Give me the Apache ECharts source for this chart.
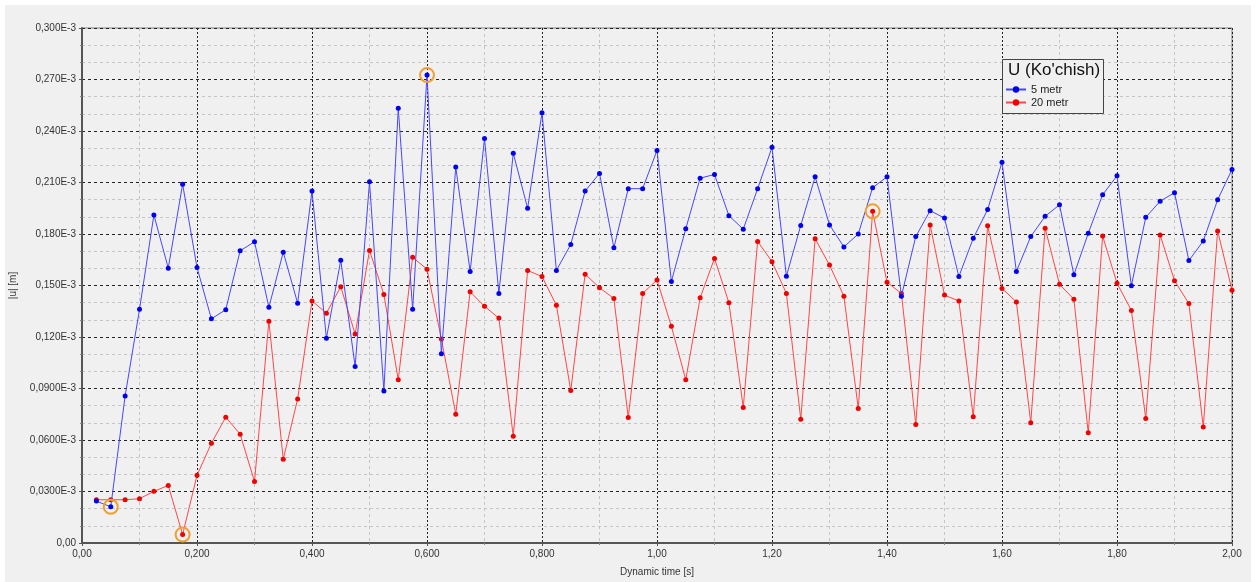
<!DOCTYPE html>
<html>
<head>
<meta charset="utf-8">
<script src="https://cdn.jsdelivr.net/npm/echarts@6/dist/echarts.min.js"></script>
<style>
html,body{margin:0;padding:0;background:#ffffff;}
#bg{position:absolute;left:5px;top:5px;width:1246px;height:577px;background:#f0f0f0;}
#chart{position:absolute;left:0;top:0;width:1256px;height:582px;}
</style>
</head>
<body>
<div id="bg"></div>
<div id="chart"></div>
<script>
// Dynamic time [s]
const times = [
  0.025,0.05,0.075,0.1,0.125,0.15,0.175,0.2,0.225,0.25,0.275,0.3,0.325,0.35,0.375,0.4,
  0.425,0.45,0.475,0.5,0.525,0.55,0.575,0.6,0.625,0.65,0.675,0.7,0.725,0.75,0.775,0.8,
  0.825,0.85,0.875,0.9,0.925,0.95,0.975,1.0,1.025,1.05,1.075,1.1,1.125,1.15,1.175,1.2,
  1.225,1.25,1.275,1.3,1.325,1.35,1.375,1.4,1.425,1.45,1.475,1.5,1.525,1.55,1.575,1.6,
  1.625,1.65,1.675,1.7,1.725,1.75,1.775,1.8,1.825,1.85,1.875,1.9,1.925,1.95,1.975,2.0
];
// |u| in units of 1E-3 m
const metr5 = [
  0.0244,0.0211,0.0857,0.1361,0.1911,0.1601,0.2090,0.1605,0.1306,0.1359,0.1702,0.1755,0.1373,0.1694,0.1397,0.2050,
  0.1192,0.1647,0.1028,0.2104,0.0886,0.2533,0.1361,0.2726,0.1103,0.2190,0.1582,0.2356,0.1454,0.2271,0.1950,0.2507,
  0.1588,0.1739,0.2050,0.2153,0.1720,0.2064,0.2064,0.2287,0.1524,0.1830,0.2125,0.2147,0.1907,0.1828,0.2064,0.2305,
  0.1554,0.1850,0.2133,0.1853,0.1725,0.1800,0.2070,0.2133,0.1438,0.1785,0.1936,0.1893,0.1552,0.1775,0.1942,0.2218,
  0.1582,0.1785,0.1903,0.1970,0.1562,0.1804,0.2029,0.2139,0.1499,0.1897,0.1991,0.2041,0.1645,0.1759,0.1999,0.2176
];
const metr20 = [
  0.0252,0.0252,0.0252,0.0258,0.0301,0.0335,0.0049,0.0394,0.0581,0.0733,0.0634,0.0358,0.1292,0.0488,0.0839,0.1410,
  0.1339,0.1493,0.1217,0.1704,0.1448,0.0951,0.1664,0.1595,0.1188,0.0750,0.1463,0.1379,0.1310,0.0622,0.1588,0.1552,
  0.1385,0.0888,0.1566,0.1487,0.1424,0.0731,0.1454,0.1532,0.1262,0.0951,0.1428,0.1658,0.1400,0.0790,0.1757,0.1639,
  0.1454,0.0721,0.1773,0.1619,0.1438,0.0784,0.1932,0.1519,0.1454,0.0691,0.1853,0.1444,0.1410,0.0735,0.1848,0.1483,
  0.1404,0.0701,0.1834,0.1507,0.1420,0.0642,0.1788,0.1513,0.1355,0.0725,0.1794,0.1528,0.1395,0.0676,0.1818,0.1473
];
const seriesNames = ['5 metr', '20 metr'];
const legendTitle = "U (Ko'chish)";
const xTickLabels = ['0,00','0,200','0,400','0,600','0,800','1,00','1,20','1,40','1,60','1,80','2,00'];
const yTickLabels = ['0,00','0,0300E-3','0,0600E-3','0,0900E-3','0,120E-3','0,150E-3','0,180E-3','0,210E-3','0,240E-3','0,270E-3','0,300E-3'];

const pairs = (vals) => times.map((t, i) => [t, vals[i]]);

const ringMark = {
  symbol: 'circle',
  symbolSize: 14,
  silent: true,
  itemStyle: { color: 'rgba(0,0,0,0)', borderColor: '#f0a030', borderWidth: 2 },
  label: { show: false },
  data: [{ type: 'min' }, { type: 'max' }]
};

const font = 'Liberation Sans, Arial, sans-serif';
const chart = echarts.init(document.getElementById('chart'), null, { renderer: 'canvas' });
chart.setOption({
  backgroundColor: 'transparent',
  animation: false,
  title: {
    text: legendTitle,
    left: 1008, top: 62,
    padding: 0, z: 20,
    textStyle: { fontFamily: font, fontSize: 17, fontWeight: 'normal', color: '#111' }
  },
  legend: {
    orient: 'vertical',
    left: 1005, top: 84,
    itemGap: 2,
    itemWidth: 20, itemHeight: 8,
    padding: 0, z: 20,
    textStyle: { fontFamily: font, fontSize: 11, color: '#222' },
    data: seriesNames
  },
  graphic: [{
    type: 'rect',
    left: 1002, top: 59,
    shape: { width: 101, height: 54 },
    style: { fill: '#f0f0f0', stroke: '#444', lineWidth: 1 },
    z: 3
  }],
  grid: {
    left: 82, right: 24, top: 28, bottom: 38,
    show: true, borderColor: '#808080', borderWidth: 1, backgroundColor: 'transparent'
  },
  xAxis: {
    type: 'value',
    min: 0, max: 2, interval: 0.2,
    name: 'Dynamic time [s]',
    nameLocation: 'middle', nameGap: 24,
    nameTextStyle: { fontFamily: font, fontSize: 10, color: '#333' },
    axisLine: { show: true, lineStyle: { color: '#555', width: 2 } },
    axisTick: { show: true, length: 3, lineStyle: { color: '#555' } },
    minorTick: { show: true, splitNumber: 2, length: 2, lineStyle: { color: '#888' } },
    axisLabel: {
      fontFamily: font, fontSize: 10, color: '#333', margin: 6,
      formatter: (v) => xTickLabels[Math.round(v / 0.2)]
    },
    splitLine: { show: true, lineStyle: { color: '#222', type: [2, 2], width: 1 } },
    minorSplitLine: { show: true, lineStyle: { color: '#c4c4c4', type: [3, 3], width: 1 } }
  },
  yAxis: {
    type: 'value',
    min: 0, max: 0.3, interval: 0.03,
    name: '|u| [m]',
    nameLocation: 'middle', nameGap: 64, nameRotate: 90,
    nameTextStyle: { fontFamily: font, fontSize: 10, color: '#333' },
    axisLine: { show: true, lineStyle: { color: '#555', width: 2 } },
    axisTick: { show: true, length: 3, lineStyle: { color: '#555' } },
    minorTick: { show: true, splitNumber: 3, length: 2, lineStyle: { color: '#888' } },
    axisLabel: {
      fontFamily: font, fontSize: 10, color: '#333', margin: 6,
      formatter: (v) => yTickLabels[Math.round(v / 0.03)]
    },
    splitLine: { show: true, lineStyle: { color: '#222', type: [3, 3], width: 1 } },
    minorSplitLine: { show: true, lineStyle: { color: '#c4c4c4', type: [3, 3], width: 1 } }
  },
  series: [
    {
      name: seriesNames[0], type: 'line', data: pairs(metr5),
      symbol: 'circle', symbolSize: 5, showSymbol: true,
      lineStyle: { color: '#4646ff', width: 1 },
      itemStyle: { color: '#0000f0' },
      markPoint: ringMark, z: 3
    },
    {
      name: seriesNames[1], type: 'line', data: pairs(metr20),
      symbol: 'circle', symbolSize: 5, showSymbol: true,
      lineStyle: { color: '#ff4646', width: 1 },
      itemStyle: { color: '#f00000' },
      markPoint: ringMark, z: 2
    }
  ]
});
</script>
</body>
</html>
